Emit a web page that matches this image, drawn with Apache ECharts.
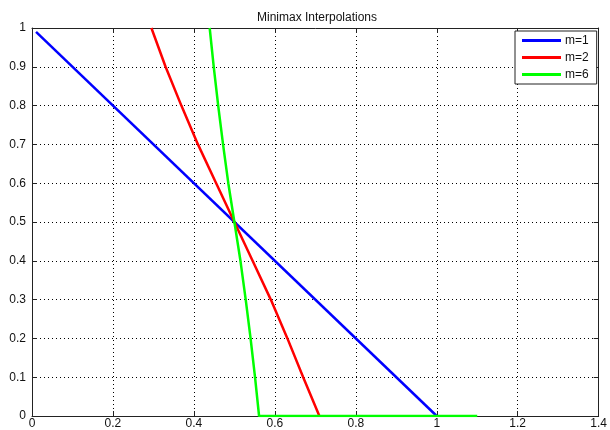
<!DOCTYPE html>
<html>
<head>
<meta charset="utf-8">
<script src="https://cdn.jsdelivr.net/npm/echarts@6/dist/echarts.min.js"></script>
<style>
html,body{margin:0;padding:0;background:#fff;}
#c{width:610px;height:430px;}
</style>
</head>
<body>
<div id="c"></div>
<script>
var titleText = 'Minimax Interpolations';
var seriesNames = ['m=1', 'm=2', 'm=6'];
var xTicks = [0, 0.2, 0.4, 0.6, 0.8, 1, 1.2, 1.4];
var yTicks = [0, 0.1, 0.2, 0.3, 0.4, 0.5, 0.6, 0.7, 0.8, 0.9, 1];

// m=1
var m1X = [0.01, 1.0];
var m1Y = [0.99, 0.0];
// m=2
var m2X = [0.295, 0.33, 0.369, 0.41, 0.455, 0.5, 0.545, 0.59, 0.631, 0.67, 0.71];
var m2Y = [1.0, 0.9, 0.8, 0.7, 0.6, 0.5, 0.4, 0.3, 0.2, 0.1, 0.0];
// m=6
var m6X = [0.439, 0.449, 0.46, 0.472, 0.485, 0.5, 0.515, 0.528, 0.54, 0.551, 0.561, 1.1];
var m6Y = [1.0, 0.9, 0.8, 0.7, 0.6, 0.5, 0.4, 0.3, 0.2, 0.1, 0.0, 0.0];

function pairs(xs, ys) { return xs.map(function (x, i) { return [x, ys[i]]; }); }
function fmt(v) { return String(Math.round(v * 10) / 10); }

var font = 'Liberation Sans, Arial, Helvetica, sans-serif';
var axisCommon = {
  axisLine: { show: true, onZero: false, lineStyle: { color: '#222', width: 1 } },
  axisTick: { show: true, inside: true, length: 5, lineStyle: { color: '#222' } }
};

var chart = echarts.init(document.getElementById('c'), null, { renderer: 'canvas' });
chart.setOption({
  animation: false,
  backgroundColor: '#fff',
  title: {
    text: titleText, left: 312, top: 7, textAlign: 'center',
    textStyle: { fontFamily: font, fontSize: 12, fontWeight: 'normal', color: '#111' }
  },
  grid: { left: 32, right: 8, top: 28, bottom: 13, containLabel: false },
  legend: {
    data: seriesNames,
    orient: 'vertical',
    left: 515, top: 31,
    padding: [3, 8, 3, 7],
    itemGap: 4,
    itemWidth: 39, itemHeight: 3,
    icon: 'rect',
    backgroundColor: '#fff',
    borderColor: '#222', borderWidth: 1, borderRadius: 0,
    textStyle: { fontFamily: font, fontSize: 12, color: '#111', lineHeight: 13, padding: [0, 0, 0, -1] }
  },
  xAxis: [
    Object.assign({
      type: 'value', min: 0, max: 1.4, interval: 0.2, position: 'bottom',
      axisLabel: { show: true, margin: 2, fontFamily: font, fontSize: 12, color: '#111',
        formatter: function (v) { return fmt(v); }, showMinLabel: true, showMaxLabel: true },
      splitLine: { show: true, lineStyle: { type: [1, 3], color: '#000', width: 1 } }
    }, axisCommon),
    Object.assign({
      type: 'value', min: 0, max: 1.4, interval: 0.2, position: 'top',
      axisLabel: { show: false }, splitLine: { show: false }
    }, axisCommon)
  ],
  yAxis: [
    Object.assign({
      type: 'value', min: 0, max: 1, interval: 0.1, position: 'left',
      axisLabel: { show: true, margin: 6, fontFamily: font, fontSize: 12, color: '#111',
        formatter: function (v) { return fmt(v); }, showMinLabel: true, showMaxLabel: true },
      splitLine: { show: true, lineStyle: { type: [1, 3], color: '#000', width: 1 } }
    }, axisCommon),
    Object.assign({
      type: 'value', min: 0, max: 1, interval: 0.1, position: 'right',
      axisLabel: { show: false }, splitLine: { show: false }
    }, axisCommon)
  ],
  series: [
    { name: seriesNames[0], type: 'line', data: pairs(m1X, m1Y), showSymbol: false, symbol: 'none',
      lineStyle: { color: '#0000ff', width: 2.5 }, itemStyle: { color: '#0000ff' }, z: 3 },
    { name: seriesNames[1], type: 'line', data: pairs(m2X, m2Y), showSymbol: false, symbol: 'none',
      lineStyle: { color: '#ff0000', width: 2.5 }, itemStyle: { color: '#ff0000' }, z: 4 },
    { name: seriesNames[2], type: 'line', data: pairs(m6X, m6Y), showSymbol: false, symbol: 'none',
      lineStyle: { color: '#00ff00', width: 2.5 }, itemStyle: { color: '#00ff00' }, z: 5 }
  ]
});
</script>
</body>
</html>
